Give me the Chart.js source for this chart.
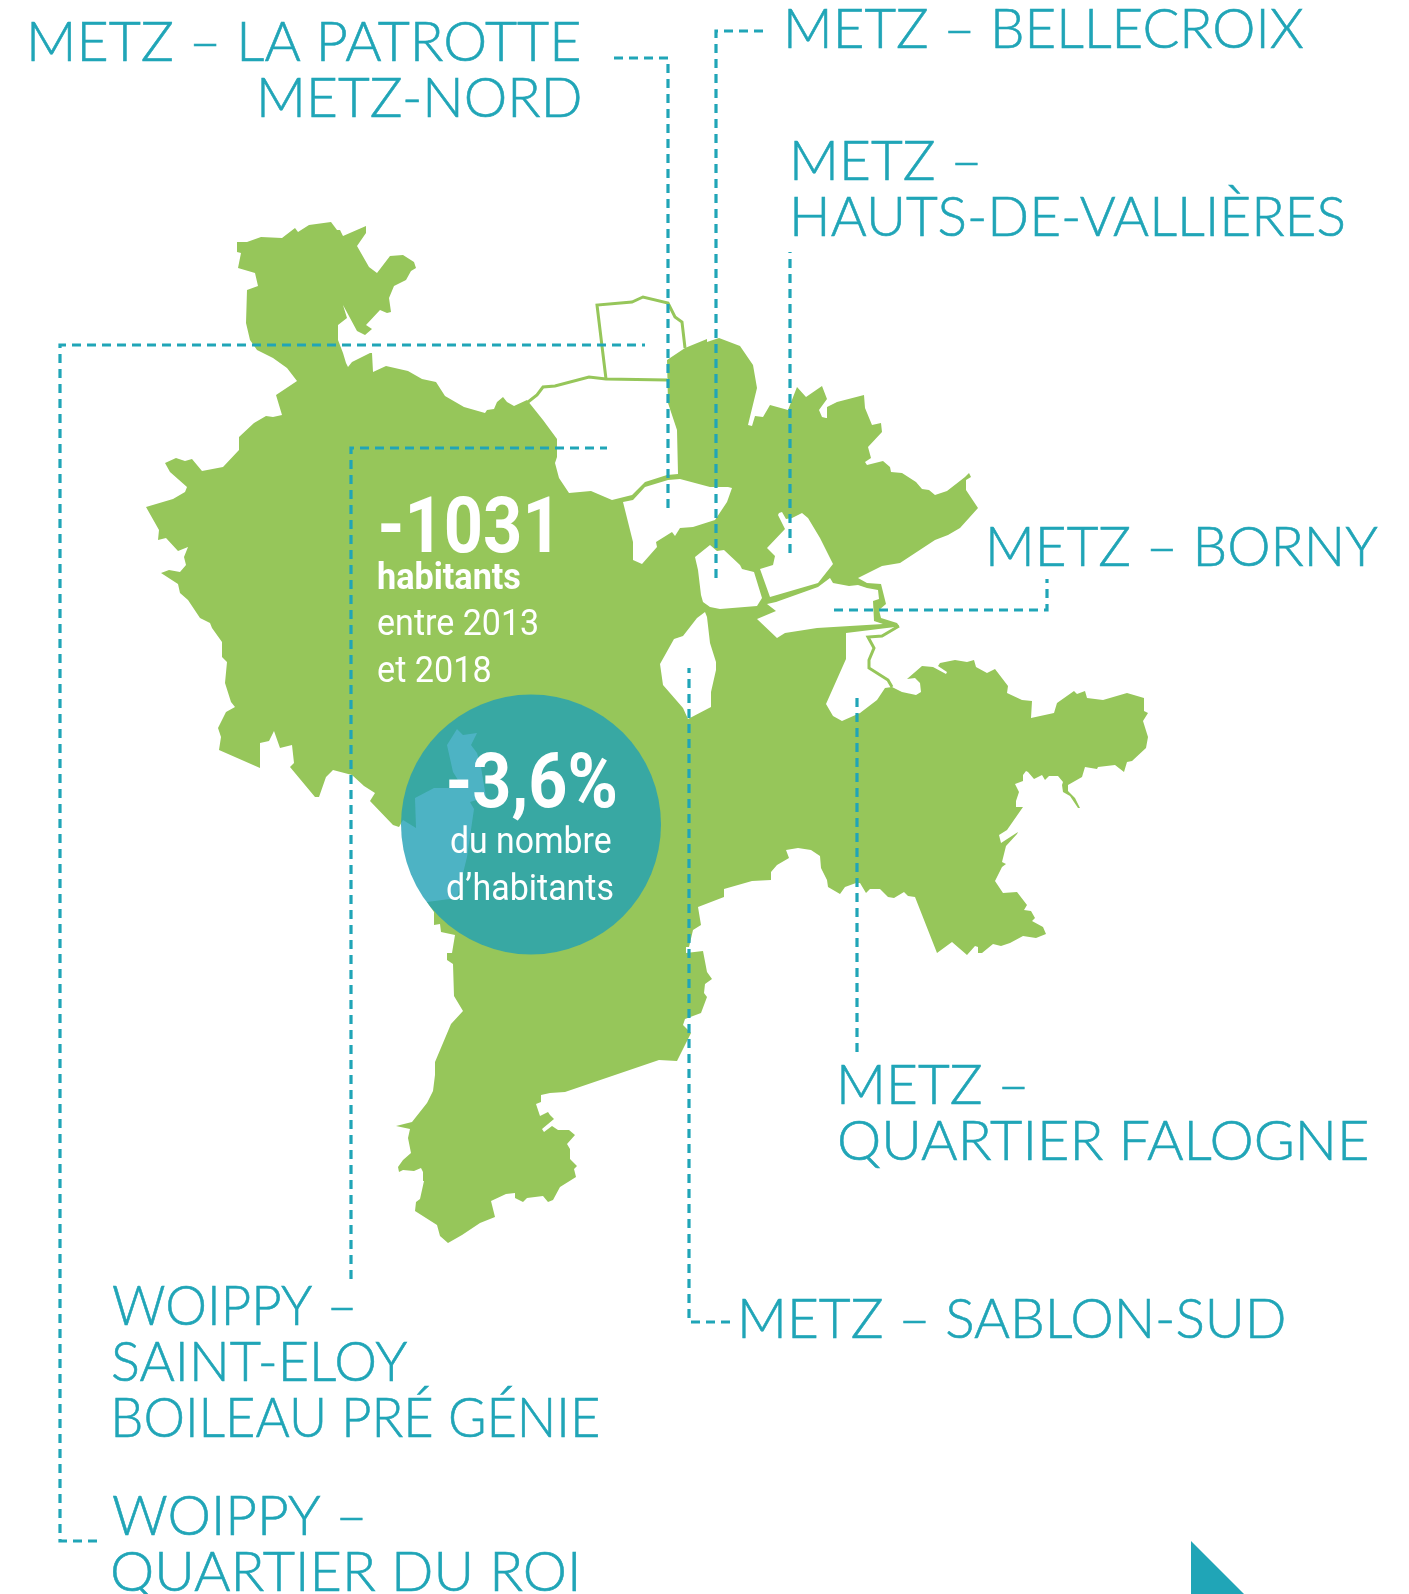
<!DOCTYPE html>
<html><head><meta charset="utf-8">
<style>html,body{margin:0;padding:0;background:#fff}canvas{display:block}</style>
<script src="https://cdn.jsdelivr.net/npm/chart.js@4"></script>
</head><body><canvas id="c" width="1409" height="1594"></canvas>
<script>
const mapOutline = [[237,242],[247,242],[261,237],[282,238],[295,228],[298,232],[309,225],[331,222],[337,230],[340,230],[343,236],[366,226],[366,233],[357,246],[369,267],[377,273],[390,256],[403,255],[414,262],[416,268],[411,271],[406,280],[394,286],[389,298],[391,312],[387,313],[380,310],[366,325],[372,329],[365,335],[357,331],[343,305],[347,318],[338,325],[338,340],[343,353],[346,363],[348,367],[352,362],[370,353],[372,353],[373,372],[386,366],[408,371],[422,379],[436,382],[445,396],[464,407],[485,413],[487,410],[494,409],[497,402],[503,397],[507,402],[514,406],[527,400],[543,420],[557,439],[557,457],[555,463],[559,478],[569,493],[591,491],[612,500],[632,495],[645,482],[667,475],[678,474],[677,430],[668,403],[667,360],[685,348],[707,339],[707,342],[719,338],[740,346],[753,365],[757,388],[748,425],[752,426],[755,416],[763,417],[770,405],[788,410],[797,387],[806,397],[822,386],[827,399],[819,410],[822,417],[826,418],[827,407],[837,402],[864,395],[865,408],[872,425],[881,423],[882,432],[868,447],[871,458],[865,462],[867,465],[883,461],[890,467],[891,472],[902,473],[916,482],[922,489],[929,490],[935,495],[947,491],[965,477],[969,473],[971,477],[966,480],[966,490],[978,508],[960,528],[948,535],[935,540],[900,563],[882,566],[858,578],[867,583],[881,584],[886,604],[879,610],[881,618],[897,623],[899,626],[895,627],[846,633],[846,659],[826,704],[833,716],[842,721],[860,713],[877,700],[885,688],[892,687],[902,692],[916,695],[921,692],[920,683],[915,678],[907,679],[922,666],[933,667],[946,674],[947,672],[938,666],[940,663],[955,660],[967,662],[974,660],[976,667],[987,673],[995,669],[1008,686],[1007,693],[1022,700],[1032,701],[1031,718],[1054,713],[1057,703],[1074,691],[1077,694],[1085,691],[1087,698],[1103,700],[1127,693],[1144,698],[1144,711],[1148,713],[1143,721],[1148,737],[1146,748],[1132,761],[1127,762],[1124,772],[1115,765],[1098,767],[1097,769],[1085,767],[1082,777],[1068,785],[1068,791],[1075,798],[1080,808],[1078,808],[1070,796],[1063,792],[1062,785],[1063,782],[1058,776],[1049,776],[1045,780],[1042,775],[1034,779],[1028,772],[1026,771],[1023,775],[1023,781],[1015,784],[1019,792],[1016,801],[1016,807],[1023,807],[1007,830],[999,835],[1001,843],[1018,832],[1017,834],[1006,846],[1002,862],[1006,864],[1002,867],[995,881],[1003,893],[1017,892],[1027,905],[1024,910],[1031,911],[1035,918],[1032,921],[1043,927],[1046,934],[1036,938],[1023,936],[1010,943],[1001,946],[993,944],[982,953],[978,953],[978,947],[975,946],[967,955],[952,942],[937,953],[915,897],[908,896],[904,892],[894,898],[888,897],[880,889],[870,889],[866,893],[860,883],[856,883],[845,887],[840,894],[828,887],[827,880],[821,868],[820,856],[811,850],[798,848],[786,850],[789,858],[777,865],[771,872],[771,880],[752,881],[724,889],[724,897],[698,907],[701,925],[693,930],[689,947],[686,947],[686,953],[703,951],[707,972],[712,979],[705,984],[704,993],[707,997],[701,1013],[685,1019],[683,1025],[691,1033],[677,1061],[659,1060],[565,1092],[550,1093],[541,1095],[541,1102],[536,1104],[540,1116],[548,1112],[550,1115],[554,1119],[542,1129],[544,1132],[552,1126],[558,1130],[569,1130],[575,1135],[567,1144],[570,1149],[570,1159],[577,1166],[574,1169],[576,1177],[560,1187],[553,1200],[548,1202],[543,1196],[527,1198],[523,1202],[515,1198],[515,1193],[506,1194],[491,1201],[495,1217],[480,1223],[462,1235],[448,1243],[440,1236],[437,1225],[415,1211],[416,1202],[420,1199],[424,1181],[423,1172],[421,1168],[414,1171],[403,1170],[399,1172],[398,1167],[403,1160],[411,1153],[408,1138],[410,1129],[396,1126],[412,1122],[427,1103],[433,1091],[435,1075],[435,1062],[451,1024],[463,1011],[454,996],[453,964],[447,960],[447,953],[452,953],[455,935],[441,932],[440,924],[434,925],[434,912],[427,902],[457,898],[467,857],[474,809],[470,802],[486,797],[481,767],[477,753],[471,745],[477,733],[463,735],[457,729],[447,745],[453,772],[458,780],[457,788],[434,788],[415,798],[416,828],[403,820],[399,827],[393,825],[370,801],[375,793],[364,786],[352,775],[333,770],[326,777],[319,797],[315,797],[290,767],[294,763],[292,745],[280,748],[274,731],[269,741],[260,743],[260,768],[219,750],[221,737],[218,728],[226,712],[235,707],[231,702],[225,683],[227,662],[222,657],[222,642],[212,628],[210,623],[200,618],[188,600],[180,593],[178,584],[161,573],[169,570],[180,572],[186,565],[184,557],[188,547],[178,551],[166,538],[158,540],[159,530],[146,507],[173,499],[185,492],[187,487],[170,472],[165,463],[176,458],[185,461],[192,459],[202,471],[223,467],[239,450],[239,437],[254,423],[266,416],[273,417],[282,415],[276,395],[297,381],[287,368],[273,358],[257,350],[250,340],[246,323],[247,290],[258,286],[255,273],[238,268],[241,253],[237,252]];
const holePatrotte = [[623,502],[633,500],[645,487],[668,480],[680,479],[710,487],[728,487],[732,488],[727,502],[715,520],[693,527],[680,528],[675,536],[672,532],[656,542],[657,547],[642,564],[633,560],[633,542]];
const holeBellecroix = [[695,557],[710,545],[717,551],[724,550],[740,565],[742,569],[754,572],[762,598],[757,606],[720,609],[710,607],[703,602],[701,595],[698,570]];
const holeVallieres = [[779,513],[782,512],[786,519],[792,518],[802,513],[808,518],[820,538],[833,564],[818,583],[770,597],[765,583],[760,569],[773,565],[775,556],[767,548],[785,529],[778,515]];
const holeBorny = [[767,604],[776,602],[818,587],[830,578],[833,583],[849,586],[858,585],[867,588],[878,590],[879,599],[873,601],[874,621],[883,624],[817,628],[785,633],[777,638],[757,619],[776,611]];
const holeSablon = [[705,612],[707,617],[710,643],[716,662],[716,670],[711,692],[711,707],[688,719],[683,708],[663,685],[660,664],[674,639],[683,636],[697,618]];
const thinFalogne = [[899,626],[882,636],[868,637],[874,648],[869,660],[869,668],[888,680],[892,687]];
const thinNorth = [[528,402],[537,395],[543,387],[555,386],[589,377],[606,379],[667,380]];
const thinLoop = [[606,379],[597,305],[632,302],[643,297],[668,303],[675,317],[682,322],[685,348]];
const leaderPatrotte = [[608,58],[668,58],[668,508]];
const leaderBellecroix = [[767,31],[716,31],[716,578]];
const leaderVallieres = [[790,252],[790,553]];
const leaderBorny = [[1047,579],[1047,610],[834,610]];
const leaderFalogne = [[857,692],[857,1052]];
const leaderSablon = [[689,668],[689,1322],[730,1322]];
const leaderSaintEloy = [[607,448],[351,448],[351,1279]];
const leaderRoi = [[645,345],[60,345],[60,1541],[97,1541]];
const circlePoint = [[531,824.5]];
const cornerMark = [[1191,1541],[1244,1594],[1191,1594]];

const labelTexts = ['METZ – LA PATROTTE','METZ-NORD','METZ – BELLECROIX','METZ –','HAUTS-DE-VALLIÈRES','METZ – BORNY','METZ –','QUARTIER FALOGNE','METZ – SABLON-SUD','WOIPPY –','SAINT-ELOY','BOILEAU PRÉ GÉNIE','WOIPPY –','QUARTIER DU ROI'];
const labelBoxes = [[31,579,61],[261,580,117],[788,1303,48],[794,978,180],[794,1343,236],[990,1377.5,566],[841,1025,1104],[840,1367,1160],[742,1284,1338],[113,353,1325],[113,407,1381],[115,598,1437],[113,363,1535],[113,576,1591]];
const statTexts = ['-1031','habitants','entre 2013','et 2018','-3,6%','du nombre','d’habitants'];
const statBoxes = [[381,550,552,'700 77px Roboto'],[378,520,589,'700 37px Roboto'],[378,537.5,635,'400 37px Roboto'],[378,490,682,'400 37px Roboto'],[449,615,807,'700 76px Roboto'],[451,611,853,'400 37px Roboto'],[447,613,900,'400 37px Roboto']];

const GREEN='#96c65a', TEAL='#20a5b7';
const pts=a=>a.map(([x,y])=>({x,y}));
const shape=(a,color,order)=>({data:pts(a),showLine:true,fill:'shape',backgroundColor:color,borderColor:color,borderWidth:0,pointRadius:0,tension:0,order});
const stroke=(a,order)=>({data:pts(a),showLine:true,fill:false,borderColor:GREEN,borderWidth:3,pointRadius:0,tension:0,order});
const pathLength=a=>a.slice(1).reduce((s,p,i)=>s+Math.abs(p[0]-a[i][0])+Math.abs(p[1]-a[i][1]),0);
const leader=a=>({data:pts(a),showLine:true,fill:false,borderColor:TEAL,borderWidth:3.2,borderDash:[9,6],borderDashOffset:((9-pathLength(a)%15)+15)%15,pointRadius:0,tension:0,order:4,borderCapStyle:'butt'});

const textPlugin={id:'texts',afterDatasetsDraw(chart){
  const {ctx,scales:{x,y}}=chart;
  const put=(txt,box,font,color,extra)=>{
    const l=x.getPixelForValue(box[0]),r=x.getPixelForValue(box[1]),b=y.getPixelForValue(box[2]);
    ctx.save();ctx.font=font;ctx.fillStyle=color;ctx.strokeStyle=color;ctx.lineWidth=extra||0;ctx.textBaseline='alphabetic';ctx.textAlign='left';
    const m=ctx.measureText(txt);
    const sx=(r-l)/(m.actualBoundingBoxRight+m.actualBoundingBoxLeft);
    ctx.translate(l,b);ctx.scale(sx,1);
    ctx.fillText(txt,m.actualBoundingBoxLeft,0);
    if(extra)ctx.strokeText(txt,m.actualBoundingBoxLeft,0);
    ctx.restore();
  };
  labelTexts.forEach((t,i)=>put(t,labelBoxes[i],'300 56px Lato',TEAL,0.6));
  statTexts.forEach((t,i)=>put(t,statBoxes[i],statBoxes[i][3],'#fff'));
}};

new Chart(document.getElementById('c'),{type:'scatter',
 data:{datasets:[
  shape(mapOutline,GREEN,10),
  shape(holePatrotte,'#fff',9),shape(holeBellecroix,'#fff',9),shape(holeVallieres,'#fff',9),shape(holeBorny,'#fff',9),shape(holeSablon,'#fff',9),
  stroke(thinFalogne,8),stroke(thinNorth,8),stroke(thinLoop,8),
  leader(leaderPatrotte),leader(leaderBellecroix),leader(leaderVallieres),leader(leaderBorny),leader(leaderFalogne),leader(leaderSablon),leader(leaderSaintEloy),leader(leaderRoi),
  {data:pts(circlePoint),showLine:false,pointRadius:130,pointHoverRadius:130,pointBackgroundColor:'rgba(32,160,181,0.8)',pointBorderWidth:0,order:2},
  shape(cornerMark,TEAL,1)
 ]},
 options:{responsive:false,animation:false,events:[],layout:{padding:0,autoPadding:false},
  plugins:{legend:{display:false},tooltip:{enabled:false}},
  scales:{x:{type:'linear',min:0,max:1409,display:false},y:{type:'linear',min:0,max:1594,reverse:true,display:false}}},
 plugins:[textPlugin]});
</script></body></html>
